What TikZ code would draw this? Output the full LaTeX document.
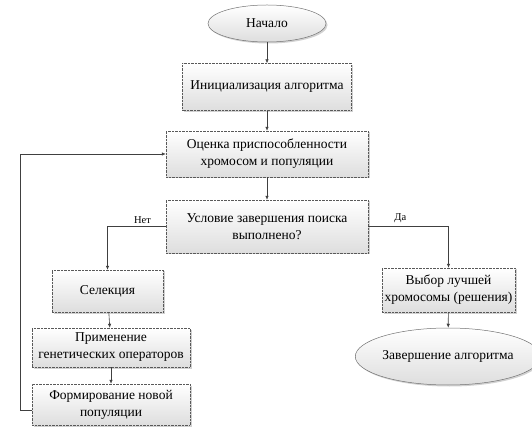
\documentclass[tikz,border=0pt]{standalone}
\usepackage{fontspec}
\setmainfont{Liberation Serif}
\usetikzlibrary{arrows.meta,shapes.geometric,shadows}

\tikzset{
  blok/.style={draw=black!65,densely dotted,top color=white,bottom color=black!13,
    drop shadow={shadow xshift=1.5pt,shadow yshift=-1.5pt,fill=black!30,opacity=.6},
    inner sep=0pt,align=center,font=\fontsize{13.5}{17}\selectfont},
  oval/.style={blok,ellipse,solid,draw=black!55,line width=.5pt},
  strelka/.style={draw=black!75,line width=.6pt,-{Latex[length=4pt,width=3.5pt]}},
  metka/.style={inner sep=1pt,font=\fontsize{10.5}{12}\selectfont}
}

\begin{document}
\begin{tikzpicture}[x=1pt,y=-1pt]
\path[use as bounding box] (0,0) rectangle (532,427);
\node[oval,minimum width=118pt,minimum height=37pt] (nachalo) at (267,23.5) {Начало};
\node[blok,minimum width=169pt,minimum height=47pt] (init) at (267,87) {Инициализация алгоритма};
\node[blok,minimum width=202pt,minimum height=46pt] (ocenka) at (267,154) {Оценка приспособленности\\хромосом и популяции};
\node[blok,minimum width=202pt,minimum height=53pt] (uslovie) at (267,226.5) {Условие завершения поиска\\выполнено?};
\node[blok,minimum width=111pt,minimum height=42pt] (selekciya) at (107.5,291) {Селекция};
\node[blok,minimum width=158pt,minimum height=39pt] (primenenie) at (111,347.5) {Применение\\генетических операторов};
\node[blok,minimum width=158pt,minimum height=41pt] (formirovanie) at (111,404.5) {Формирование новой\\популяции};
\node[blok,minimum width=133pt,minimum height=44pt] (vybor) at (448.5,290) {Выбор лучшей\\хромосомы (решения)};
\node[oval,minimum width=160pt,minimum height=57pt] (zavershenie) at (448,356.5) {Завершение алгоритма};
\coordinate (obhod) at (20,410);
% connectors
\draw[strelka] (nachalo) -- (init);
\draw[strelka] (init) -- (ocenka);
\draw[strelka] (ocenka) -- (uslovie);
\draw[strelka] (uslovie.west) -| node[metka,pos=.2,above=2pt] {Нет} (selekciya);
\draw[strelka] (uslovie.east) -| node[metka,pos=.2,above=2pt] {Да} (vybor);
\draw[strelka] (selekciya) -- (primenenie);
\draw[strelka] (primenenie) -- (formirovanie);
\draw[strelka] (vybor) -- (zavershenie);
\draw[strelka] (formirovanie.west |- obhod) -- (obhod) |- (ocenka.west);
\end{tikzpicture}
\end{document}
